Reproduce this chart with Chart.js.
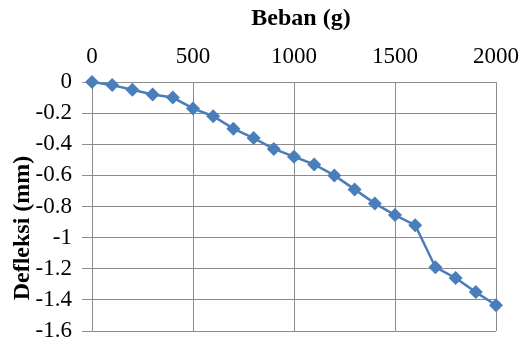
<!DOCTYPE html>
<html>
<head>
<meta charset="utf-8">
<title>Defleksi vs Beban</title>
<script src="https://cdn.jsdelivr.net/npm/chart.js@4/dist/chart.umd.min.js"></script>
<style>
  html, body { margin: 0; padding: 0; background: #fff; }
  #wrap { width: 522px; height: 345px; }
</style>
</head>
<body>
<div id="wrap"><canvas id="chart" width="522" height="345"></canvas></div>
<script>
// load in grams, deflection in mm
const beban = [0, 100, 200, 300, 400, 500, 600, 700, 800, 900, 1000,
               1100, 1200, 1300, 1400, 1500, 1600, 1700, 1800, 1900, 2000];
const defleksi = [0, -0.02, -0.05, -0.08, -0.10, -0.17, -0.22, -0.30, -0.36, -0.43, -0.48,
                  -0.53, -0.60, -0.69, -0.78, -0.855, -0.92, -1.19, -1.26, -1.35, -1.435];
const xTicks = [0, 500, 1000, 1500, 2000];
const yTicks = [0, -0.2, -0.4, -0.6, -0.8, -1, -1.2, -1.4, -1.6];
const xTitle = 'Beban (g)';
const yTitle = 'Defleksi (mm)';

const blue = '#4A7EBB';
const gridGray = '#8C8C8C';
const fontFamily = "'Liberation Serif', 'Times New Roman', serif";

Chart.defaults.font.family = fontFamily;
Chart.defaults.color = '#000';

// Axis titles drawn by hand, the y one sits a bit below the plot centre like the original
const axisTitles = {
    id: 'axisTitles',
    afterDraw: function(chart) {
        const c = chart.ctx;
        c.save();
        c.fillStyle = '#000';
        c.font = 'bold 24px ' + fontFamily;
        c.textAlign = 'center';
        c.textBaseline = 'alphabetic';
        c.fillText(xTitle, 301, 25);
        c.translate(29, 228);
        c.rotate(-Math.PI / 2);
        c.fillText(yTitle, 0, 0);
        c.restore();
    }
};

const points = beban.map(function(b, i) {
    return { x: b, y: defleksi[i] };
});

const ctx = document.getElementById('chart').getContext('2d');
new Chart(ctx, {
    type: 'line',
    data: {
        datasets: [{
            data: points,
            borderColor: blue,
            backgroundColor: blue,
            borderWidth: 2.5,
            pointStyle: 'rectRot',
            pointRadius: 7,
            pointBorderWidth: 0,
            tension: 0,
            clip: false
        }]
    },
    plugins: [axisTitles],
    options: {
        responsive: false,
        animation: false,
        devicePixelRatio: 1,
        layout: { padding: 0 },
        plugins: {
            legend: { display: false },
            tooltip: { enabled: false }
        },
        scales: {
            x: {
                type: 'linear',
                position: 'top',
                min: 0,
                max: 2000,
                afterBuildTicks: function(scale) {
                    scale.ticks = xTicks.map(v => ({ value: v }));
                },
                afterFit: function(scale) {
                    scale.height = 82;
                    scale.paddingRight = 26;
                },
                grid: { color: gridGray, lineWidth: 1, drawTicks: false },
                border: { color: gridGray, width: 1 },
                ticks: {
                    color: '#000',
                    padding: 11,
                    autoSkip: false,
                    maxRotation: 0,
                    font: { family: fontFamily, size: 23 },
                    callback: function(v) { return String(v); }
                }
            },
            y: {
                type: 'linear',
                min: -1.6,
                max: 0,
                afterBuildTicks: function(scale) {
                    scale.ticks = yTicks.slice().reverse().map(v => ({ value: v }));
                },
                afterFit: function(scale) {
                    scale.width = 92;
                    scale.paddingBottom = 14;
                },
                grid: { color: gridGray, lineWidth: 1, drawTicks: true, tickLength: 10 },
                border: { color: gridGray, width: 1 },
                ticks: {
                    color: '#000',
                    padding: 10,
                    autoSkip: false,
                    font: { family: fontFamily, size: 23 },
                    callback: function(v) { return String(parseFloat(v.toFixed(1))); }
                }
            }
        }
    }
});
</script>
</body>
</html>
